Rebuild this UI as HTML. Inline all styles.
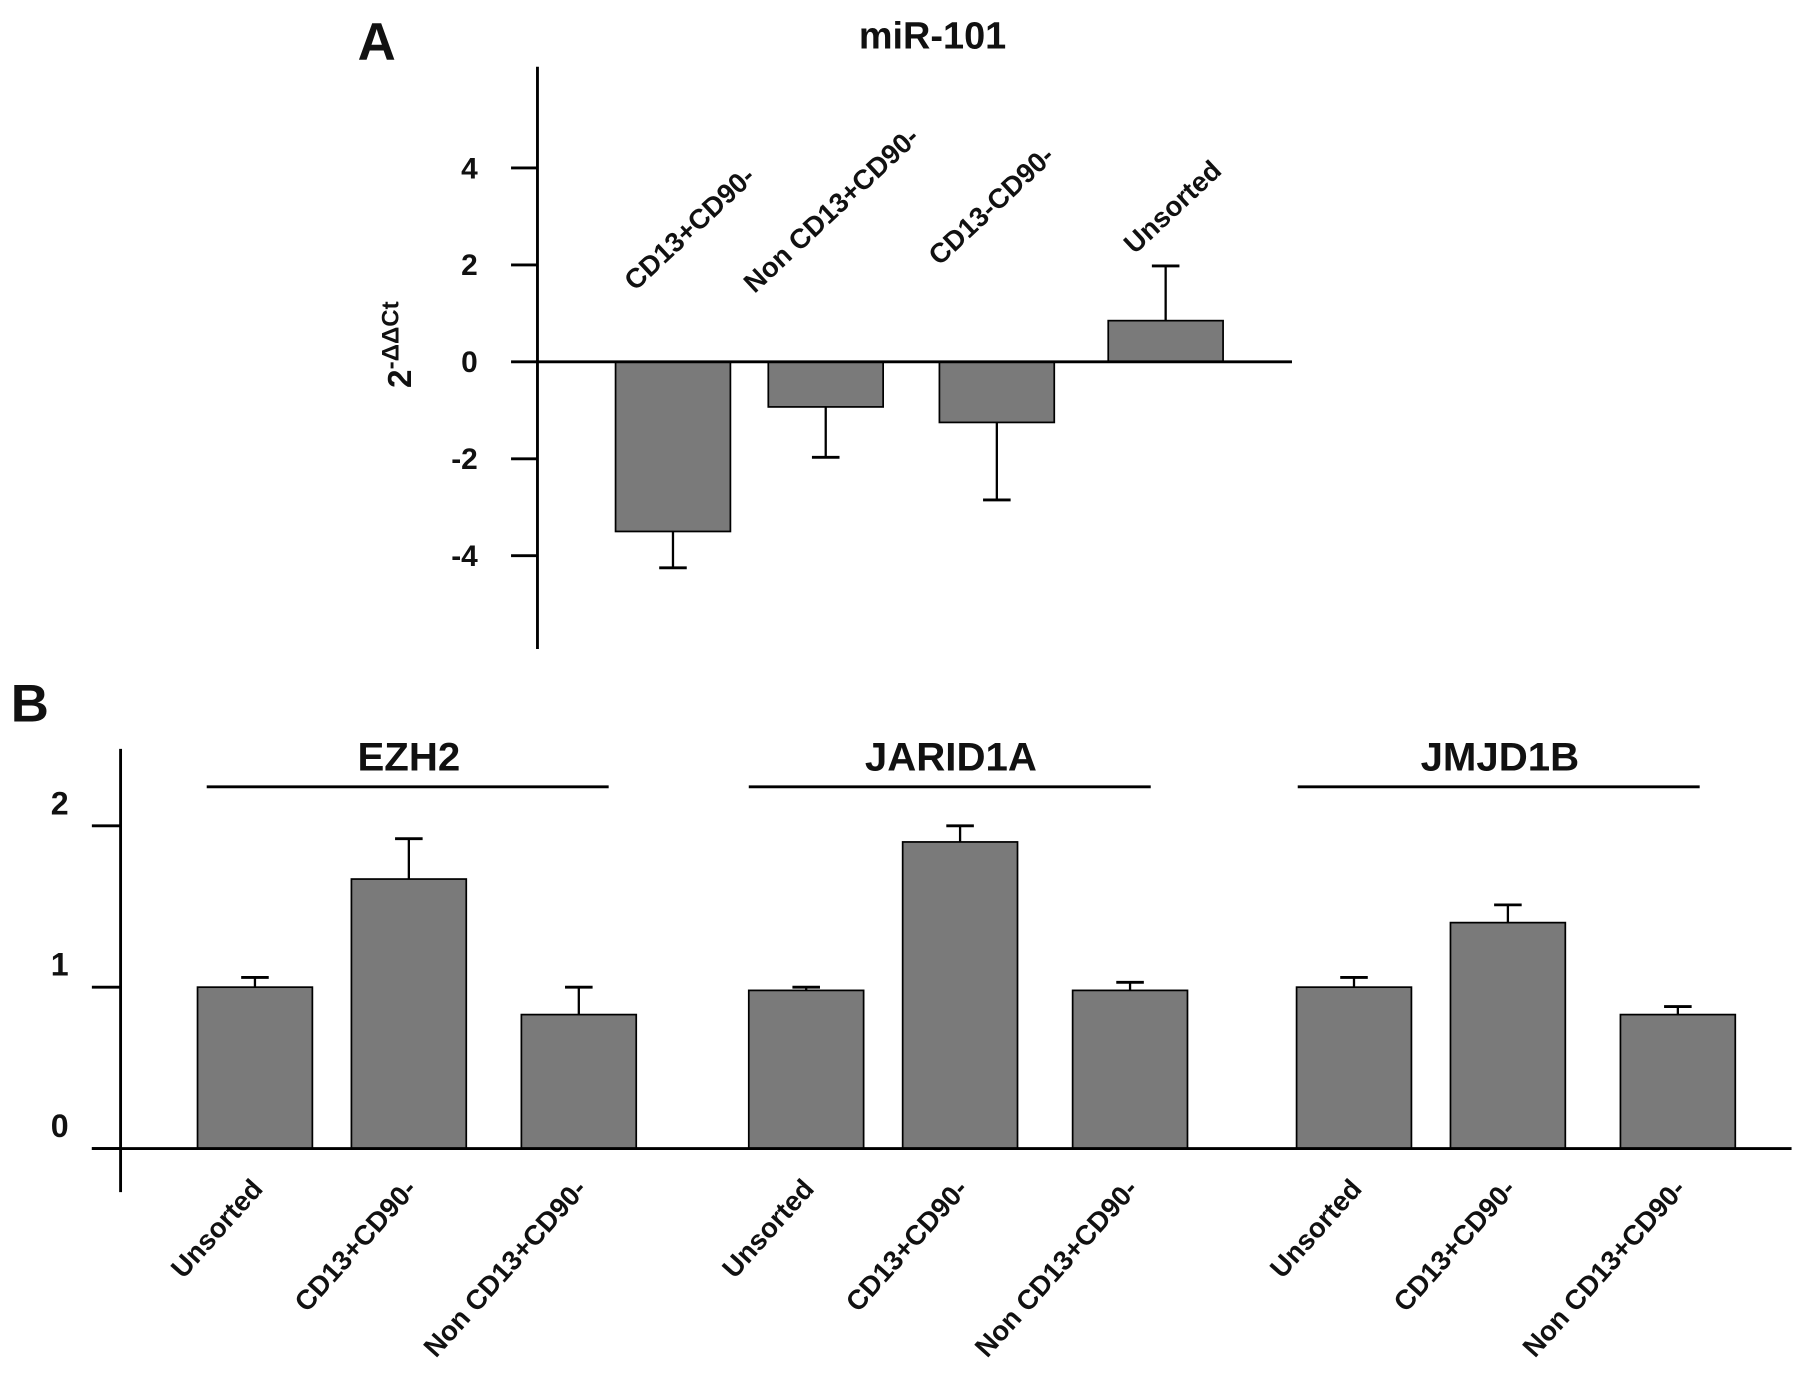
<!DOCTYPE html>
<html><head><meta charset="utf-8"><style>
html,body{margin:0;padding:0;background:#fff}
svg{display:block}
text{font-family:"Liberation Sans",Arial,sans-serif;font-weight:bold;fill:#111}
</style></head><body>
<svg id="chart" width="1795" height="1376" viewBox="0 0 1563 1198" xmlns="http://www.w3.org/2000/svg">
<g id="pa"></g>
<g id="pb"></g>
</svg>
<script>
// Panel A data
const aCategories = ["CD13+CD90-", "Non CD13+CD90-", "CD13-CD90-", "Unsorted"];
const aValues = [-3.5, -0.93, -1.25, 0.85];
const aErrors = [-4.25, -1.97, -2.85, 1.98];
const aTicks = [4, 2, 0, -2, -4];
// Panel B data
const bGroups = ["EZH2", "JARID1A", "JMJD1B"];
const bCategories = ["Unsorted", "CD13+CD90-", "Non CD13+CD90-"];
const bValues = [[1.0, 1.67, 0.83], [0.98, 1.90, 0.98], [1.0, 1.40, 0.83]];
const bErrors = [[1.06, 1.92, 1.0], [1.0, 2.0, 1.03], [1.06, 1.51, 0.88]];
const bTicks = [2, 1, 0];

const NS = "http://www.w3.org/2000/svg";
function mk(parent, tag, attrs, txt) {
  const e = document.createElementNS(NS, tag);
  for (const k in attrs) e.setAttribute(k, attrs[k]);
  if (txt !== undefined) e.textContent = txt;
  parent.appendChild(e);
  return e;
}
// ---------- Panel A ----------
const pa = document.getElementById("pa");
const yA = v => 315 - v * 42.2;
const aBarX = i => [536, 669, 818, 965][i];
const bw = 100;
let t = mk(pa, "text", {x: 328, y: 52, "font-size": 46, "text-anchor": "middle"}, "A");


t = mk(pa, "text", {x: 812, y: 42, "font-size": 33, "text-anchor": "middle"}, "miR-101");


t = mk(pa, "text", {x: 0, y: 0, "font-size": 29, transform: "translate(358,300) rotate(-90)", "text-anchor": "middle"});


mk(t, "tspan", {}, "2");
mk(t, "tspan", {dy: -11, "font-size": 21}, "-ΔΔCt");
let ax = mk(pa, "line", {x1: 468, y1: 58, x2: 468, y2: 565, stroke: "#000", "stroke-width": 2.5});


aTicks.forEach(v => {
  const tk = mk(pa, "line", {x1: 445, y1: yA(v), x2: 468, y2: yA(v), stroke: "#000", "stroke-width": 2.5});
  
  
  const tl = mk(pa, "text", {x: 416, y: yA(v) + 9, "font-size": 26, "text-anchor": "end"}, String(v));
  
  
});
aValues.forEach((v, i) => {
  const x = aBarX(i), cx = x + bw / 2;
  const e = aErrors[i];
  const el = mk(pa, "line", {x1: cx, y1: yA(v), x2: cx, y2: yA(e), stroke: "#000", "stroke-width": 2});
  
  
  const cap = mk(pa, "line", {x1: cx - 12, y1: yA(e), x2: cx + 12, y2: yA(e), stroke: "#000", "stroke-width": 2.5});
  
  
  const r = mk(pa, "rect", {x: x, y: Math.min(yA(v), yA(0)), width: bw, height: Math.abs(yA(v) - yA(0)), fill: "#7a7a7a", stroke: "#000", "stroke-width": 1.5});
  
  
  const lx = [553, 657, 818, 988][i], ly = [254, 256, 232, 222][i];
  const lb = mk(pa, "text", {x: 0, y: 0, "font-size": 24, transform: `translate(${lx},${ly}) rotate(-43)`}, aCategories[i]);
  
  
});
ax = mk(pa, "line", {x1: 468, y1: yA(0), x2: 1125, y2: yA(0), stroke: "#000", "stroke-width": 2.5});



// ---------- Panel B ----------
const pb = document.getElementById("pb");
const yB = v => 1000 - v * 140.5;
const groupStart = [172, 652, 1129];
const lineStart = [180, 652, 1130];
const barOffset = [0, 134, 282];
t = mk(pb, "text", {x: 26, y: 628, "font-size": 46, "text-anchor": "middle"}, "B");


ax = mk(pb, "line", {x1: 105, y1: 652, x2: 105, y2: 1038, stroke: "#000", "stroke-width": 2.5});


bTicks.forEach(v => {
  const tk = mk(pb, "line", {x1: 80, y1: yB(v), x2: 105, y2: yB(v), stroke: "#000", "stroke-width": 2.5});
  
  
  const tl = mk(pb, "text", {x: 52, y: yB(v) - 10, "font-size": 28, "text-anchor": "middle"}, String(v));
  
  
});
bGroups.forEach((g, gi) => {
  const gs = groupStart[gi], ls = lineStart[gi];
  const gl = mk(pb, "line", {x1: ls, y1: 685, x2: ls + 350, y2: 685, stroke: "#000", "stroke-width": 2.5});
  
  
  const gt = mk(pb, "text", {x: ls + 176, y: 671, "font-size": 35, "text-anchor": "middle"}, g);
  
  
  bValues[gi].forEach((v, i) => {
    const x = gs + barOffset[i], cx = x + bw / 2, e = bErrors[gi][i];
    const el = mk(pb, "line", {x1: cx, y1: yB(v), x2: cx, y2: yB(e), stroke: "#000", "stroke-width": 2});
    
    
    const cap = mk(pb, "line", {x1: cx - 12, y1: yB(e), x2: cx + 12, y2: yB(e), stroke: "#000", "stroke-width": 2.5});
    
    
    const r = mk(pb, "rect", {x: x, y: yB(v), width: bw, height: yB(0) - yB(v), fill: "#7a7a7a", stroke: "#000", "stroke-width": 1.5});
    
    
    const lb = mk(pb, "text", {x: 0, y: 0, "font-size": 24, "text-anchor": "end", transform: `translate(${cx + 8},1036) rotate(-48)`}, bCategories[i]);
    
    
  });
});
ax = mk(pb, "line", {x1: 80, y1: yB(0), x2: 1560, y2: yB(0), stroke: "#000", "stroke-width": 2.5});


</script>
</body></html>
